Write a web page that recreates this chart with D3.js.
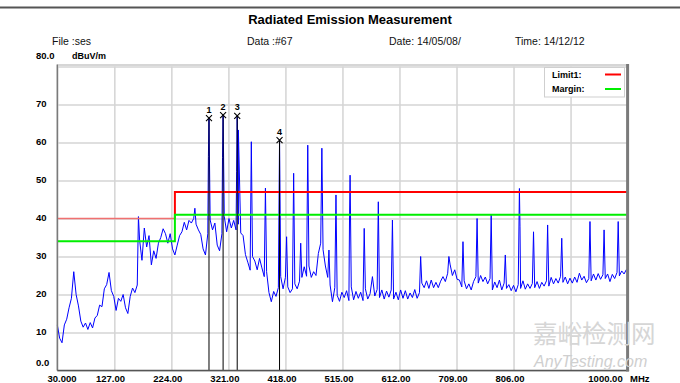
<!DOCTYPE html>
<html><head><meta charset="utf-8">
<script src="https://cdn.jsdelivr.net/npm/d3@7"></script>
<style>body{margin:0;background:#fff}svg{display:block}</style>
</head><body>
<script>
// ---------------- DATA ----------------
const titleText = "Radiated Emission Measurement";
const headerTexts = ["File :ses", "Data :#67", "Date: 14/05/08/", "Time: 14/12/12"];
const unitY = "dBuV/m";
const unitX = "MHz";

// measured trace (noise floor) sampled every 4 MHz from 30 MHz
const freqStart = 30, freqStep = 4;
const baseLevels = [
  12, 8.5, 7.3, 12, 13.5, 16.5, 19, 26, 20, 17, 13, 11.4,
  12.5, 10.8, 12.6, 11.2, 13.8, 14.5, 17.2, 16.8, 21.5, 22.6, 25.8, 21,
  19.5, 15.8, 19, 18.2, 20, 16.5, 15, 19.5, 21.7, 20.5, 22.5, 34.3,
  29, 37.5, 32.5, 35.5, 27.8, 31.5, 29.5, 33.5, 35, 37.3, 36, 33.5,
  36, 32, 30.4, 33, 35.5, 36.5, 39, 37, 39.5, 38.8, 40, 38.5,
  37, 35.8, 32, 30.4, 36, 39.6, 37, 38.8, 33, 31.5, 36, 40.5,
  36.5, 40, 37.5, 39.5, 37, 38.5, 36.2, 35.5, 30.5, 28.5, 26.4, 30,
  28.8, 26.5, 29.5, 27, 24.7, 26, 20.5, 18.1, 20.8, 19.5, 21.8, 24.7,
  21.5, 24.5, 22, 20.5, 21.5, 22.8, 21.5, 23.5, 24.5, 27.3, 24.8, 27.5,
  24.5, 26, 25, 30.8, 33.5, 31.8, 27.5, 24.5, 22.5, 18.1, 21.8, 19.8,
  18.2, 20.6, 19.2, 21, 18.4, 22, 18.6, 20.8, 19, 20.6, 18.4, 21.5,
  18.8, 20.2, 24.7, 19.6, 21.3, 19.2, 21.2, 18.8, 20.9, 19.3, 21.2, 18.8,
  20.6, 18.6, 21.2, 19, 21, 18.8, 20.4, 19.2, 21.3, 19, 20.5, 23,
  21.8, 23.6, 21.6, 23.8, 21.8, 23.2, 21.8, 23.5, 24.7, 23.4, 25.6, 28,
  25, 26.5, 24, 23.8, 22, 23.6, 21.5, 22.8, 21.2, 23.4, 24.7, 23,
  25, 23.4, 24.6, 22.8, 24.2, 21.2, 23.3, 21.8, 23.8, 21.2, 23, 21.6,
  22.6, 21, 22.4, 20.7, 22.6, 21.6, 23.6, 21.4, 22.8, 21.6, 22.9, 21.8,
  23.4, 21.6, 23.2, 22.2, 23.6, 22.2, 24.5, 22.8, 24.2, 23, 24.8, 23.2,
  24.6, 22.8, 24.3, 23, 24.6, 23.2, 25.6, 23.8, 24.8, 23.1, 24.2, 23.6,
  25.4, 23.8, 25.5, 24, 25.2, 24.2, 25.4, 23.4, 25.3, 24.2, 25.8, 24.9,
  26.2, 25.4, 26.6
];
// narrow emission spikes (harmonics)
const peakFreqs  = [168, 264, 287, 288, 311, 312, 335, 336, 338, 360, 384, 408, 420, 432, 444, 456, 480, 492, 504, 527, 528, 552, 576, 600, 648, 696, 720, 744, 768, 792, 816, 817, 840, 864, 888, 936, 960, 984];
const peakLevels = [40.5, 42.7, 56.3, 66.4, 56, 67.2, 52.3, 67, 63.3, 60.2, 48, 60.7, 35.2, 51.9, 33.5, 59.3, 58.5, 31.7, 46.2, 39.6, 51.4, 37.4, 44.4, 39.6, 30, 30, 33.9, 40, 40.9, 30.4, 47.9, 37.8, 36.5, 38.3, 34.8, 39.2, 37, 39.2];

// markers
const markerIds = ["1", "2", "3", "4"];
const markerFreqs = [288, 312, 336, 408];
const markerLevels = [66.4, 67.2, 67.0, 60.6];

// limit lines
const limitFreqs = [30, 230, 230, 1000];
const limitLevels = [40, 40, 47, 47];
const marginLevels = [34, 34, 41, 41];
const legendNames = ["Limit1:", "Margin:"];

// axes
const xTickValues = [30, 127, 224, 321, 418, 515, 612, 709, 806, 903, 1000];
const xTickLabels = ["30.000", "127.00", "224.00", "321.00", "418.00", "515.00", "612.00", "709.00", "806.00", "", "1000.00"];
const yTickValues = [0, 10, 20, 30, 40, 50, 60, 70, 80];
const yTickLabels = ["0.0", "10", "20", "30", "40", "50", "60", "70", "80.0"];

const watermarkCN = "嘉峪检测网";
const watermarkEN = "AnyTesting.com";

// ---------------- DRAW ----------------
const W = 680, H = 383;
const L = 57.3, R = 627.6, T = 66.5, B = 370.5;
const svg = d3.select("body").append("svg").attr("width", W).attr("height", H);
const font = "'Liberation Sans', Arial, sans-serif";

const x = d3.scaleLinear().domain([30, 1000]).range([L, R]);
const y = d3.scaleLinear().domain([0, 80]).range([B, T]);

// top rule
svg.append("line").attr("x1", 0).attr("x2", W).attr("y1", 7.5).attr("y2", 7.5)
  .attr("stroke", "#555").attr("stroke-width", 2);

// title & header
svg.append("text").attr("x", 350).attr("y", 24).attr("text-anchor", "middle")
  .attr("font-family", font).attr("font-weight", "bold").attr("font-size", 13)
  .text(titleText);
const headerX = [52, 247, 389, 515];
svg.selectAll("text.hdr").data(headerTexts).join("text").attr("class", "hdr")
  .attr("x", (d, i) => headerX[i]).attr("y", 44.5)
  .attr("font-family", font).attr("font-size", 10.5).attr("fill", "#111").text(d => d);

// grid
const gx = svg.append("g").attr("transform", `translate(0,${B})`)
  .call(d3.axisBottom(x).tickValues(xTickValues).tickSize(-(B - T)).tickFormat(""));
gx.select(".domain").remove();
gx.selectAll("line").attr("stroke", "#d4d4d4").attr("stroke-width", 1.5);
const gy = svg.append("g").attr("transform", `translate(${L},0)`)
  .call(d3.axisLeft(y).tickValues(yTickValues).tickSize(-(R - L)).tickFormat(""));
gy.select(".domain").remove();
gy.selectAll("line").attr("stroke", "#d4d4d4").attr("stroke-width", 1.5);

// trace
const pts = baseLevels.map((v, i) => [freqStart + i * freqStep, v])
  .concat(peakFreqs.map((f, i) => [f, peakLevels[i]]))
  .sort((a, b) => a[0] - b[0]);
const line = d3.line().x(d => x(d[0])).y(d => y(d[1]));
svg.append("path").datum(pts).attr("d", line)
  .attr("fill", "none").attr("stroke", "#0000ff").attr("stroke-width", 1)
  .attr("stroke-linejoin", "miter");

// limit & margin
const limPts = limitFreqs.map((f, i) => [f, limitLevels[i]]);
const marPts = limitFreqs.map((f, i) => [f, marginLevels[i]]);
svg.append("path").datum(limPts.slice(0, 2)).attr("d", line)
  .attr("fill", "none").attr("stroke", "#f07070").attr("stroke-width", 1.3);
svg.append("path").datum(limPts.slice(1)).attr("d", line)
  .attr("fill", "none").attr("stroke", "#ff0000").attr("stroke-width", 2);
svg.append("path").datum(marPts).attr("d", line)
  .attr("fill", "none").attr("stroke", "#00ee00").attr("stroke-width", 2);

// markers
const mk = svg.selectAll("g.mk").data(markerIds).join("g").attr("class", "mk");
mk.append("line")
  .attr("x1", (d, i) => x(markerFreqs[i])).attr("x2", (d, i) => x(markerFreqs[i]))
  .attr("y1", (d, i) => y(markerLevels[i])).attr("y2", B)
  .attr("stroke", "#000").attr("stroke-width", 1);
mk.append("path")
  .attr("d", (d, i) => {
    const cx = x(markerFreqs[i]), cy = y(markerLevels[i]), s = 3;
    return `M${cx - s},${cy - s}L${cx + s},${cy + s}M${cx - s},${cy + s}L${cx + s},${cy - s}`;
  })
  .attr("stroke", "#000").attr("stroke-width", 1.1).attr("fill", "none");
mk.append("text")
  .attr("x", (d, i) => x(markerFreqs[i])).attr("y", (d, i) => y(markerLevels[i]) - 5.5)
  .attr("text-anchor", "middle").attr("font-family", font).attr("font-weight", "bold")
  .attr("font-size", 9).text(d => d);

// frame
svg.append("line").attr("x1", L).attr("x2", R).attr("y1", T - 1.5).attr("y2", T - 1.5)
  .attr("stroke", "#c8c8c8").attr("stroke-width", 1.5);
svg.append("line").attr("x1", L).attr("x2", L).attr("y1", T - 2).attr("y2", B)
  .attr("stroke", "#7a7a7a").attr("stroke-width", 1.5);
svg.append("line").attr("x1", L).attr("x2", R + 1.5).attr("y1", B).attr("y2", B)
  .attr("stroke", "#555").attr("stroke-width", 1.5);
svg.append("line").attr("x1", R).attr("x2", R).attr("y1", T - 2.5).attr("y2", B + 1)
  .attr("stroke", "#7a7a7a").attr("stroke-width", 3);

// x axis labels
const xLabelDx = [4.2, -4.3, -4, -4, -4, -4, -4, -4, -4, 0, -22.6];
const axX = svg.append("g").attr("transform", `translate(0,${B})`)
  .call(d3.axisBottom(x).tickValues(xTickValues).tickSize(0).tickPadding(0)
    .tickFormat((d, i) => xTickLabels[i]));
axX.select(".domain").remove();
axX.selectAll("text").attr("font-family", font).attr("font-weight", "bold")
  .attr("font-size", 9.5).attr("fill", "#000")
  .attr("dy", null).attr("y", 11)
  .attr("dx", (d, i) => xLabelDx[i]);
svg.append("text").attr("x", 630).attr("y", B + 11).attr("font-family", font)
  .attr("font-weight", "bold").attr("font-size", 9.5).text(unitX);

// y axis labels
const yLabelDy = [-8.5, -1, -1, -1, -1, -1, -1, -1, -11];
const axY = svg.append("g").attr("transform", `translate(36,0)`)
  .call(d3.axisRight(y).tickValues(yTickValues).tickSize(0).tickPadding(0)
    .tickFormat((d, i) => yTickLabels[i]));
axY.select(".domain").remove();
axY.selectAll("text").attr("font-family", font).attr("font-weight", "bold")
  .attr("font-size", 9.5).attr("fill", "#000").attr("x", 0)
  .attr("dy", (d, i) => (yLabelDy[i] + 3.4) + "px");
svg.append("text").attr("x", 72).attr("y", y(80) - 11 + 3.4).attr("font-family", font)
  .attr("font-weight", "bold").attr("font-size", 9).text(unitY);

// legend
const lg = svg.append("g");
lg.append("rect").attr("x", 544.5).attr("y", 67.5).attr("width", 80).attr("height", 29.5)
  .attr("fill", "#fff").attr("stroke", "#cfcfcf").attr("stroke-width", 1);
const legColors = ["#ff0000", "#00ee00"];
const legY = [74.5, 89];
legendNames.forEach((n, i) => {
  lg.append("text").attr("x", 552).attr("y", legY[i] + 3.3).attr("font-family", font)
    .attr("font-weight", "bold").attr("font-size", 9).text(n);
  lg.append("line").attr("x1", 605).attr("x2", 621).attr("y1", legY[i]).attr("y2", legY[i])
    .attr("stroke", legColors[i]).attr("stroke-width", 2);
});

// watermark
svg.append("text").attr("x", 533).attr("y", 343).attr("font-family", "'Noto Sans CJK SC', sans-serif")
  .attr("font-size", 24.5).attr("fill", "#d6d6d6").text(watermarkCN);
svg.append("text").attr("x", 534).attr("y", 366.5).attr("font-family", font)
  .attr("font-style", "italic").attr("font-size", 16).attr("fill", "#cfcfcf").text(watermarkEN);
</script>
</body></html>
